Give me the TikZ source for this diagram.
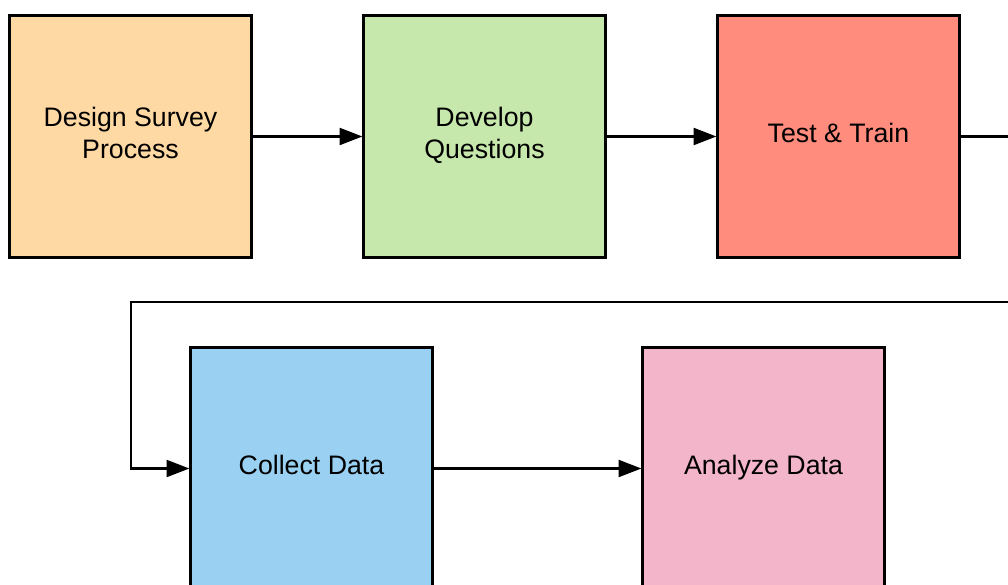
\documentclass[tikz,border=0pt]{standalone}
\usepackage{fontspec}
\setmainfont{Liberation Sans}
\usetikzlibrary{arrows.meta}
\definecolor{peach}{HTML}{FFD9A4}
\definecolor{leaf}{HTML}{C7E8AC}
\definecolor{salmon}{HTML}{FF8C7C}
\definecolor{sky}{HTML}{9AD1F2}
\definecolor{rose}{HTML}{F2B5C9}
\tikzset{
  stage/.style={draw=black, line width=0.075cm, minimum width=6.025cm,
    minimum height=6.025cm, align=center, inner sep=0pt, text depth=0.2cm,
    font=\fontsize{19}{23}\selectfont},
  flow/.style={line width=0.065cm, -{Triangle[length=0.57cm, width=0.42cm]}},
}
\begin{document}
\begin{tikzpicture}[x=0.025cm, y=-0.025cm]
\useasboundingbox (0,0) rectangle (1008,585);
\clip (0,0) rectangle (1008,585);
\node[stage, fill=peach](design) at (130.5,136.5) {Design Survey\\Process};
\node[stage, fill=leaf](develop) at (484.5,136.5) {Develop\\Questions};
\node[stage, fill=salmon](test) at (838.5,136.5) {Test \& Train};
\node[stage, fill=sky](collect) at (311.5,468.5) {Collect Data};
\node[stage, fill=rose](analyze) at (763.5,468.5) {Analyze Data};
%
\coordinate(outright) at (1010,136.5);
\coordinate(backright) at (1010,302);
\coordinate(backleft) at (131,302);
%
\draw[flow](design) -- (develop);
\draw[flow](develop) -- (test);
\draw[line width=0.065cm](test) -- (outright);
\draw[flow](backright) -- (backleft) |- (collect);
\draw[flow](collect) -- (analyze);
\end{tikzpicture}
\end{document}
